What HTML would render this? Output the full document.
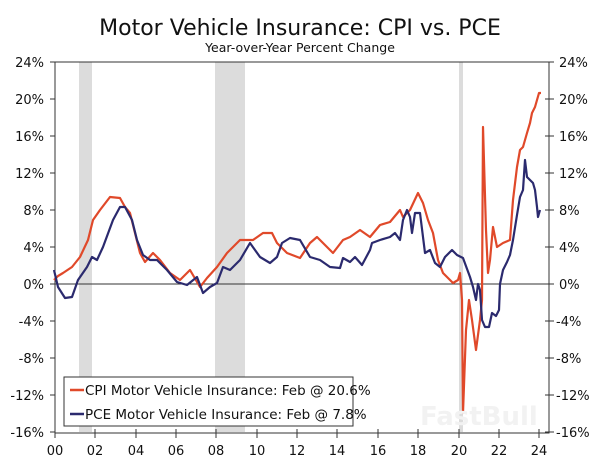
<!DOCTYPE html>
<html><head><meta charset="utf-8"><style>
body{margin:0;background:#fff;}
svg{display:block;font-family:"DejaVu Sans","Liberation Sans",sans-serif;}
</style></head><body>
<svg width="600" height="460" viewBox="0 0 600 460">
<rect width="600" height="460" fill="#fff"/>
<text x="300" y="35" text-anchor="middle" font-size="22" fill="#111">Motor Vehicle Insurance: CPI vs. PCE</text>
<text x="300" y="52" text-anchor="middle" font-size="12.5" fill="#111">Year-over-Year Percent Change</text>
<g fill="#dcdcdc">
<rect x="79" y="62" width="13" height="370"/>
<rect x="215" y="62" width="30" height="370"/>
<rect x="459" y="62" width="4" height="370"/>
</g>
<line x1="55" y1="284" x2="549" y2="284" stroke="#333" stroke-width="1"/>
<g stroke="#333" stroke-width="1" fill="none">
<polyline points="549,62 55,62 55,433 549,433 549,62"/>
</g>
<g stroke="#333" stroke-width="1">
<line x1="50" y1="62" x2="55" y2="62"/><line x1="50" y1="99" x2="55" y2="99"/><line x1="50" y1="136" x2="55" y2="136"/><line x1="50" y1="173" x2="55" y2="173"/><line x1="50" y1="210" x2="55" y2="210"/><line x1="50" y1="247" x2="55" y2="247"/><line x1="50" y1="284" x2="55" y2="284"/><line x1="50" y1="321" x2="55" y2="321"/><line x1="50" y1="358" x2="55" y2="358"/><line x1="50" y1="395" x2="55" y2="395"/><line x1="50" y1="432" x2="55" y2="432"/>
<line x1="545" y1="62" x2="554" y2="62"/><line x1="545" y1="99" x2="554" y2="99"/><line x1="545" y1="136" x2="554" y2="136"/><line x1="545" y1="173" x2="554" y2="173"/><line x1="545" y1="210" x2="554" y2="210"/><line x1="545" y1="247" x2="554" y2="247"/><line x1="545" y1="284" x2="554" y2="284"/><line x1="545" y1="321" x2="554" y2="321"/><line x1="545" y1="358" x2="554" y2="358"/><line x1="545" y1="395" x2="554" y2="395"/><line x1="545" y1="432" x2="554" y2="432"/>
<line x1="55" y1="429" x2="55" y2="438"/><line x1="95" y1="429" x2="95" y2="438"/><line x1="136" y1="429" x2="136" y2="438"/><line x1="176" y1="429" x2="176" y2="438"/><line x1="216" y1="429" x2="216" y2="438"/><line x1="257" y1="429" x2="257" y2="438"/><line x1="297" y1="429" x2="297" y2="438"/><line x1="337" y1="429" x2="337" y2="438"/><line x1="378" y1="429" x2="378" y2="438"/><line x1="418" y1="429" x2="418" y2="438"/><line x1="459" y1="429" x2="459" y2="438"/><line x1="499" y1="429" x2="499" y2="438"/><line x1="539" y1="429" x2="539" y2="438"/>
</g>
<g font-size="13" fill="#111" text-anchor="end">
<text x="44" y="67">24%</text><text x="44" y="104">20%</text><text x="44" y="141">16%</text><text x="44" y="178">12%</text><text x="44" y="215">8%</text><text x="44" y="252">4%</text><text x="44" y="289">0%</text><text x="44" y="326">-4%</text><text x="44" y="363">-8%</text><text x="44" y="400">-12%</text><text x="44" y="437">-16%</text>
</g>
<g font-size="13" fill="#111" text-anchor="start">
<text x="559" y="67">24%</text><text x="559" y="104">20%</text><text x="559" y="141">16%</text><text x="559" y="178">12%</text><text x="559" y="215">8%</text><text x="559" y="252">4%</text><text x="559" y="289">0%</text><text x="556" y="326">-4%</text><text x="556" y="363">-8%</text><text x="556" y="400">-12%</text><text x="556" y="437">-16%</text>
</g>
<g font-size="13" fill="#111" text-anchor="middle">
<text x="55" y="455">00</text><text x="95" y="455">02</text><text x="136" y="455">04</text><text x="176" y="455">06</text><text x="216" y="455">08</text><text x="257" y="455">10</text><text x="297" y="455">12</text><text x="337" y="455">14</text><text x="378" y="455">16</text><text x="418" y="455">18</text><text x="459" y="455">20</text><text x="499" y="455">22</text><text x="539" y="455">24</text>
</g>
<polyline fill="none" stroke="#e0492a" stroke-width="2.2" stroke-linejoin="round" points="54,280 58,276 63,273 72,267 80,257 88,240 93,220 100,210 110,197 120,198 125,207 130,213 135,233 140,253 145,262 153,253 160,260 170,273 180,280 190,270 200,287 207,278 217,267 227,253 240,240 253,240 263,233 272,233 277,243 287,253 300,258 310,243 317,237 323,243 333,253 343,240 350,237 360,230 370,237 380,225 390,222 400,210 403,217 410,210 418,193 423,203 428,220 433,233 438,260 443,273 453,283 458,280 460,273 462,300 463,413 466,330 469,300 472,320 476,350 480,320 482,300 483,127 486,230 488,273 490,260 493,227 497,247 503,243 510,240 513,200 517,167 520,150 523,147 527,133 530,123 532,113 535,107 537,100 539,93 541,93"/>
<polyline fill="none" stroke="#2b2a6e" stroke-width="2.2" stroke-linejoin="round" points="54,270 58,287 65,298 72,297 78,280 87,267 92,257 97,260 103,247 113,220 120,207 125,207 132,220 137,240 143,255 150,260 157,260 167,270 177,282 187,285 197,277 203,293 210,287 217,283 223,267 230,270 240,260 250,243 260,257 270,263 277,257 282,243 290,238 300,240 310,257 320,260 330,267 340,268 343,258 350,262 355,257 362,265 370,250 372,243 380,240 390,237 395,233 400,240 403,220 407,210 410,217 412,233 415,213 420,213 425,253 430,250 435,263 440,267 445,257 452,250 457,255 463,258 470,277 473,287 476,300 478,284 480,290 482,320 485,327 489,327 492,313 496,316 499,310 500,284 503,270 507,262 510,255 513,240 517,215 520,197 523,190 525,160 527,177 530,180 533,183 535,190 537,207 538,217 540,210"/>
<rect x="64" y="377" width="289" height="49" fill="#fff" stroke="#333" stroke-width="1"/>
<line x1="70" y1="390" x2="84" y2="390" stroke="#e0492a" stroke-width="2.5"/>
<line x1="70" y1="414" x2="84" y2="414" stroke="#2b2a6e" stroke-width="2.5"/>
<g font-size="13.5" fill="#111">
<text x="85" y="395">CPI Motor Vehicle Insurance: Feb @ 20.6%</text>
<text x="85" y="419">PCE Motor Vehicle Insurance: Feb @ 7.8%</text>
</g>
<text x="420" y="425" font-size="26" font-weight="bold" fill="#f2f2f2">FastBull</text>
</svg>
</body></html>
